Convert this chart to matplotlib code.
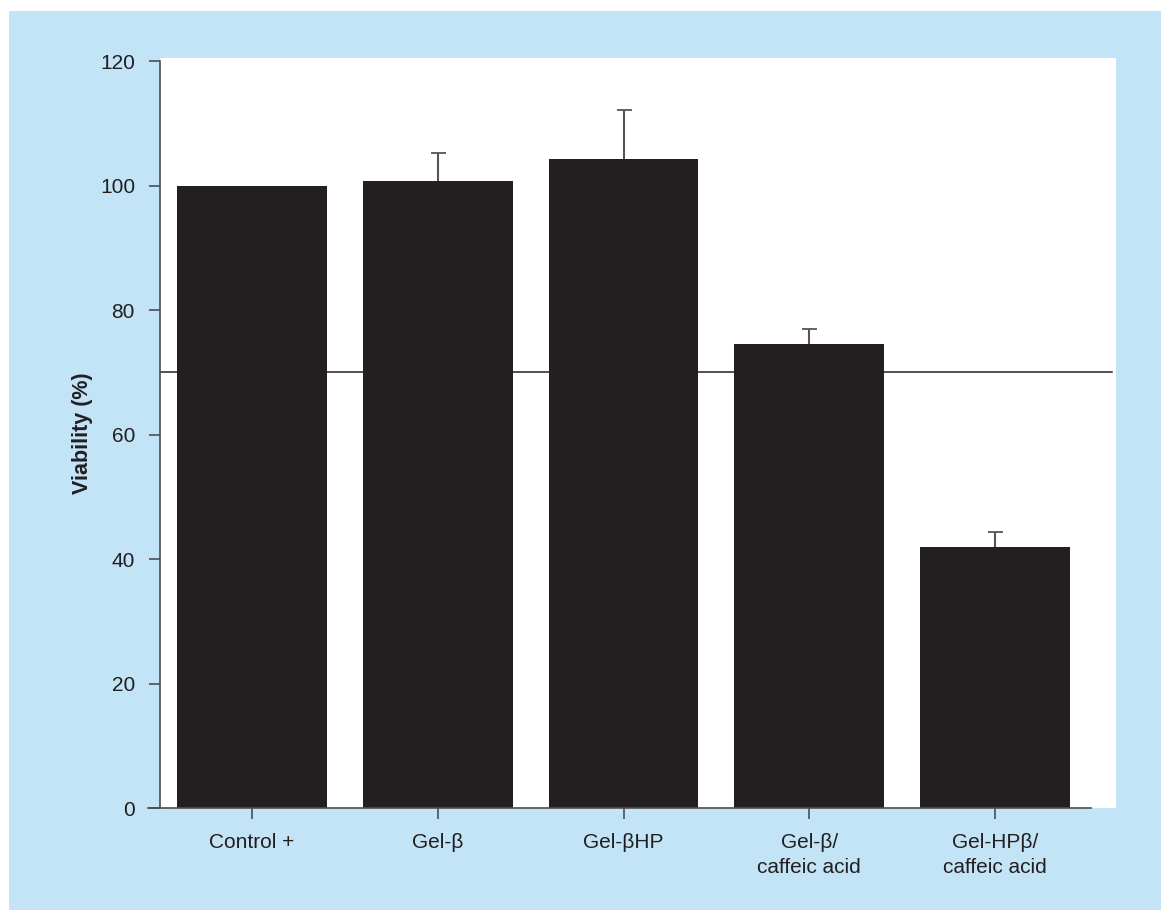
import matplotlib
matplotlib.use("Agg")
import matplotlib.pyplot as plt
from matplotlib.patches import Rectangle

# Cell viability per formulation
categories = ["Control +", "Gel-β", "Gel-βHP", "Gel-β/\ncaffeic acid", "Gel-HPβ/\ncaffeic acid"]
viability = [100.0, 100.7, 104.3, 74.5, 41.9]
viability_sd = [0.0, 4.6, 7.8, 2.5, 2.4]
threshold = 70
yticks = [0, 20, 40, 60, 80, 100, 120]

ink = "#231F20"
axis_grey = "#4D4D4F"
panel_blue = "#C2E4F6"

plt.rcParams["font.family"] = ["Liberation Sans", "DejaVu Sans"]

fig = plt.figure(figsize=(11.61, 9.10), dpi=100)
fig.patch.set_facecolor("white")
panel = Rectangle((9 / 1161, 0), 1 - 9 / 1161, 1 - 11 / 910,
                  transform=fig.transFigure, facecolor=panel_blue,
                  edgecolor="none", zorder=-10)
fig.add_artist(panel)

ax = fig.add_axes([160 / 1161, 102 / 910, 956 / 1161, 750 / 910])
ax.set_zorder(1)
ax.set_facecolor("white")

x = list(range(len(categories)))
ax.bar(x, viability, width=0.807, color=ink, zorder=2)

# upper-only error bars for groups with a nonzero spread
ex = [xi for xi, s in zip(x, viability_sd) if s > 0]
ey = [v for v, s in zip(viability, viability_sd) if s > 0]
es = [s for s in viability_sd if s > 0]
eb = ax.errorbar(ex, ey, yerr=[[0] * len(es), es], fmt="none",
                 ecolor="#555555", elinewidth=1.5, capsize=5.4, capthick=1.3, zorder=3)
caps = eb[1]
if len(caps) == 2:
    caps[0].set_visible(False)

ax.axhline(threshold, xmin=0, xmax=0.9958, color=ink, linewidth=1.1, zorder=1)

ax.set_xlim(-0.4953, 4.651)
ax.set_ylim(0, 120.5)

for side in ("top", "right"):
    ax.spines[side].set_visible(False)
for side in ("left", "bottom"):
    ax.spines[side].set_color(axis_grey)
    ax.spines[side].set_linewidth(1.2)
ax.spines["left"].set_bounds(0, 120)
ax.spines["bottom"].set_bounds(-0.56, 4.517)

ax.set_yticks(yticks)
ax.set_yticklabels([str(v) for v in yticks])
ax.set_xticks(x)
ax.set_xticklabels(categories, linespacing=1.4)
ax.tick_params(axis="y", direction="out", length=8, width=1.2, color=axis_grey,
               labelsize=15, labelcolor=ink, pad=10)
ax.tick_params(axis="x", direction="out", length=8, width=1.2, color=axis_grey,
               labelsize=15, labelcolor=ink, pad=10)

ax.set_ylabel("Viability (%)", fontsize=15.5, fontweight="bold", color=ink, labelpad=5)

fig.savefig("out.png", dpi=100)
